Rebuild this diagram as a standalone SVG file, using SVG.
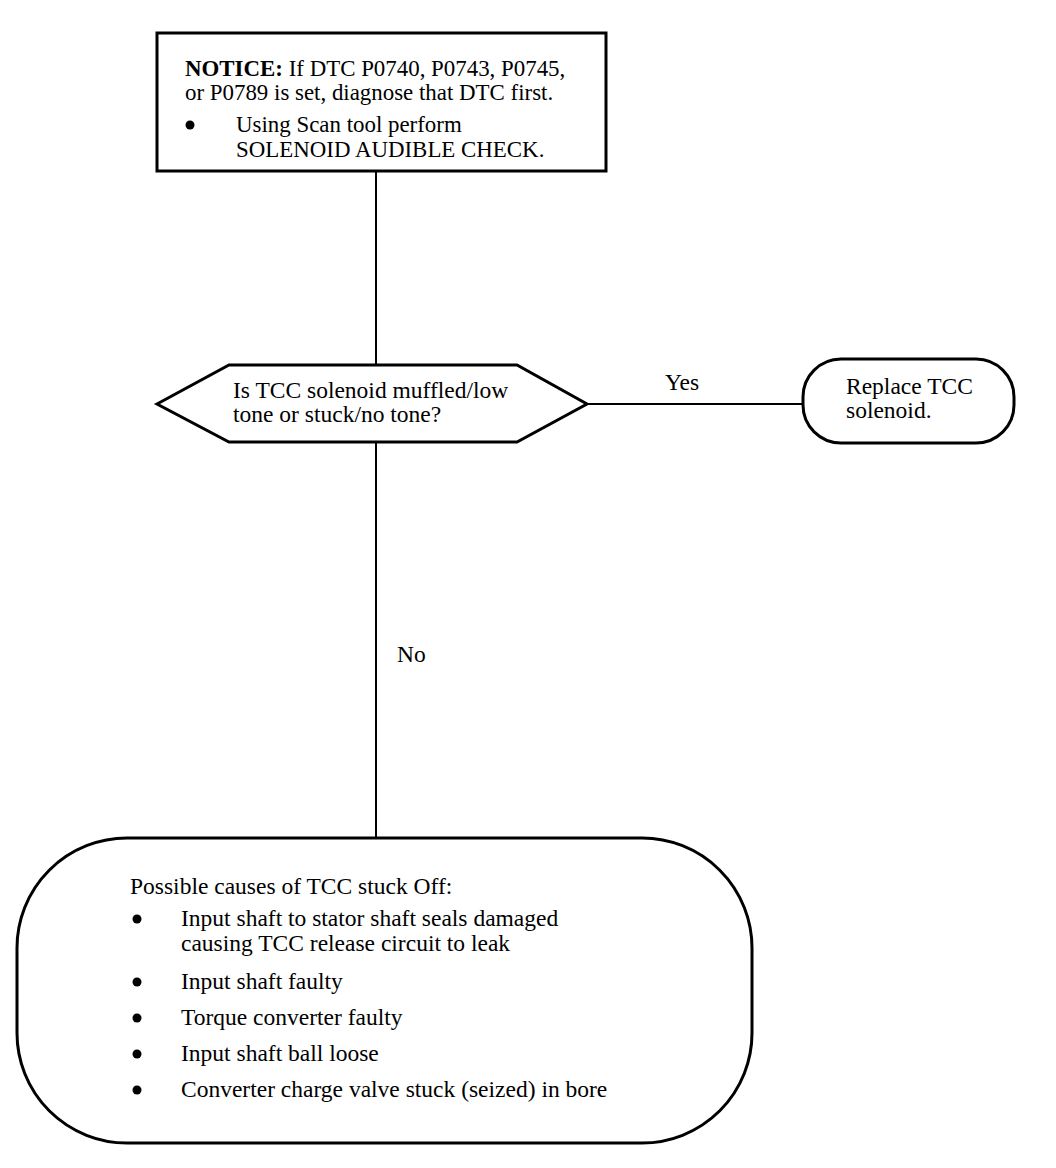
<svg xmlns="http://www.w3.org/2000/svg" width="1056" height="1168" viewBox="0 0 1056 1168">
<style>
.n{fill:#fff;stroke:#000;stroke-width:3}
.c{fill:none;stroke:#000;stroke-width:2}
text{font-family:"Liberation Serif","Times New Roman",serif;font-size:23.5px;fill:#000}
.t{font-size:22.9px}
.b{font-weight:bold}
</style>
<rect width="1056" height="1168" fill="#fff"/>
<g id="connectors">
<line class="c" x1="376" y1="171" x2="376" y2="364"/>
<line class="c" x1="587" y1="404" x2="803" y2="404"/>
<line class="c" x1="376" y1="442" x2="376" y2="838"/>
<text x="665" y="390">Yes</text>
<text x="397" y="662">No</text>
</g>
<g id="notice">
<rect class="n" x="157" y="33" width="449" height="138"/>
<text class="t" x="185" y="76"><tspan class="b">NOTICE:</tspan> If DTC P0740, P0743, P0745,</text>
<text class="t" x="185" y="100">or P0789 is set, diagnose that DTC first.</text>
<circle cx="190" cy="125" r="4.5"/>
<text class="t" x="236" y="132">Using Scan tool perform</text>
<text class="t" x="236" y="157">SOLENOID AUDIBLE CHECK.</text>
</g>
<g id="decision">
<polygon class="n" points="157,404 229,365 517,365 587,404 517,442 229,442"/>
<text x="233" y="398">Is TCC solenoid muffled/low</text>
<text x="233" y="422">tone or stuck/no tone?</text>
</g>
<g id="replace">
<rect class="n" x="803" y="359" width="211" height="84" rx="38" ry="38"/>
<text x="846" y="394">Replace TCC</text>
<text x="846" y="418">solenoid.</text>
</g>
<g id="causes">
<rect class="n" x="17" y="838" width="735" height="305" rx="110" ry="110"/>
<text x="130" y="894">Possible causes of TCC stuck Off:</text>
<circle cx="137" cy="919" r="4.5"/>
<text x="181" y="926">Input shaft to stator shaft seals damaged</text>
<text x="181" y="951">causing TCC release circuit to leak</text>
<circle cx="137" cy="982" r="4.5"/>
<text x="181" y="989">Input shaft faulty</text>
<circle cx="137" cy="1018" r="4.5"/>
<text x="181" y="1025">Torque converter faulty</text>
<circle cx="137" cy="1054" r="4.5"/>
<text x="181" y="1061">Input shaft ball loose</text>
<circle cx="137" cy="1090" r="4.5"/>
<text x="181" y="1097">Converter charge valve stuck (seized) in bore</text>
</g>
</svg>
